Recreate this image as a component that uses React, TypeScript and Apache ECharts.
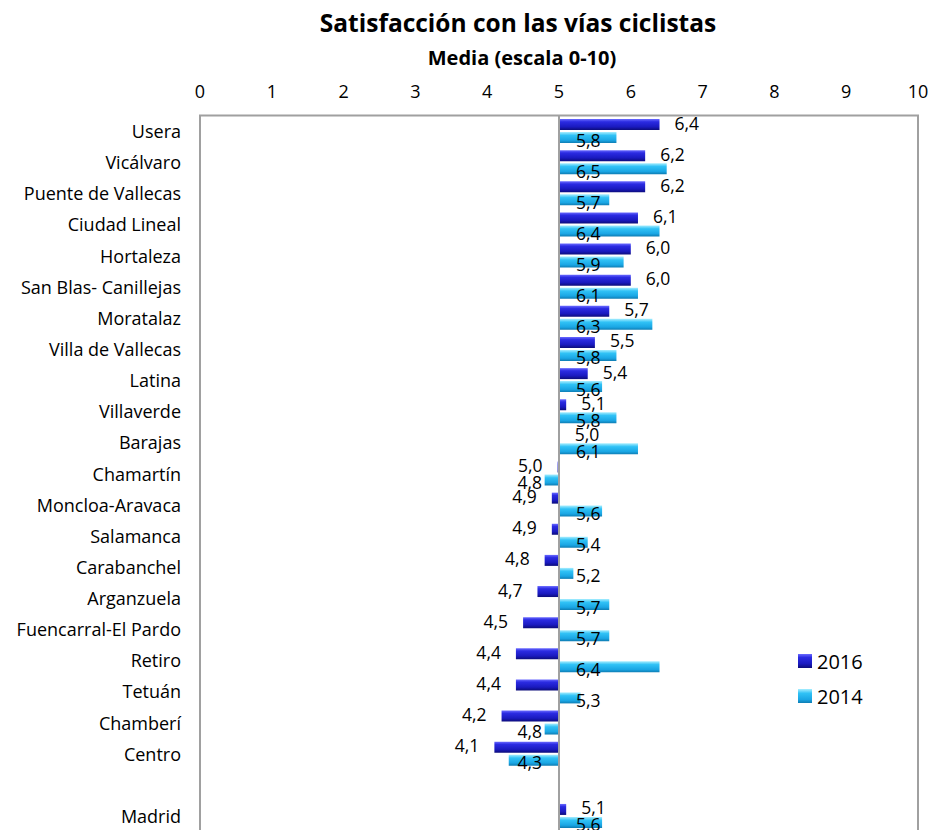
import React, { useEffect, useRef } from "react";
import * as echarts from "echarts";

const titleText = "Satisfacción con las vías ciclistas";
const subtitleText = "Media (escala 0-10)";
const baseline = 5;
const tickLabels = ["0", "1", "2", "3", "4", "5", "6", "7", "8", "9", "10"];
const seriesNames = ["2016", "2014"];
const categories = [
  "Usera",
  "Vicálvaro",
  "Puente de Vallecas",
  "Ciudad Lineal",
  "Hortaleza",
  "San Blas- Canillejas",
  "Moratalaz",
  "Villa de Vallecas",
  "Latina",
  "Villaverde",
  "Barajas",
  "Chamartín",
  "Moncloa-Aravaca",
  "Salamanca",
  "Carabanchel",
  "Arganzuela",
  "Fuencarral-El Pardo",
  "Retiro",
  "Tetuán",
  "Chamberí",
  "Centro",
  "",
  "Madrid",
];
const values2016 = [6.4, 6.2, 6.2, 6.1, 6.0, 6.0, 5.7, 5.5, 5.4, 5.1, 5.01, 4.98, 4.9, 4.9, 4.8, 4.7, 4.5, 4.4, 4.4, 4.2, 4.1, null, 5.1];
const values2014 = [5.8, 6.5, 5.7, 6.4, 5.9, 6.1, 6.3, 5.8, 5.6, 5.8, 6.1, 4.8, 5.6, 5.4, 5.2, 5.7, 5.7, 6.4, 5.3, 4.8, 4.3, null, 5.6];

const FONT = "Open Sans";
const fmt = (v: number) => v.toFixed(1).replace(".", ",");

const grad = (stops: [number, string][]) =>
  new echarts.graphic.LinearGradient(0, 0, 0, 1, stops.map(([offset, color]) => ({ offset, color })));

export default function App() {
  const ref = useRef<HTMLDivElement>(null);
  useEffect(() => {
    document.body.style.margin = "0";
    if (!ref.current) return;
    const chart = echarts.init(ref.current, null, { renderer: "svg" });
    const c2016 = grad([
      [0, "#6a6aff"],
      [0.25, "#2b2be2"],
      [0.7, "#1a1abf"],
      [1, "#0c0c7a"],
    ]);
    const c2014 = grad([
      [0, "#a8eeff"],
      [0.3, "#30c2f6"],
      [0.75, "#1aa6e4"],
      [1, "#0e7cb2"],
    ]);
    const d2016 = values2016.map((v) =>
      v == null
        ? null
        : { value: v - baseline, label: { position: v >= baseline ? "right" : "left" } }
    );
    const d2014 = values2014.map((v) =>
      v == null
        ? null
        : { value: v - baseline, label: { position: v >= baseline ? "insideLeft" : "insideRight" } }
    );
    chart.setOption({
      animation: false,
      title: [
        {
          text: titleText,
          left: 513,
          top: 5,
          textAlign: "center",
          textStyle: { fontFamily: FONT, fontSize: 24.5, fontWeight: "bold", color: "#000" },
        },
        {
          text: subtitleText,
          left: 517,
          top: 42,
          textAlign: "center",
          textStyle: { fontFamily: FONT, fontSize: 20, fontWeight: "bold", color: "#000" },
        },
      ],
      legend: {
        orient: "vertical",
        left: 793,
        top: 646,
        itemWidth: 14,
        itemHeight: 14,
        itemGap: 15,
        icon: "rect",
        data: seriesNames,
        textStyle: { fontFamily: FONT, fontSize: 20, lineHeight: 20, color: "#000" },
      },
      grid: {
        left: 200,
        top: 115.5,
        width: 718,
        height: 716,
        show: true,
        borderColor: "#a0a0a0",
        borderWidth: 2,
        containLabel: false,
        outerBoundsMode: "none",
      },
      xAxis: {
        type: "value",
        position: "top",
        min: -5,
        max: 5,
        interval: 1,
        axisLine: { show: false },
        axisTick: { show: false },
        splitLine: { show: false },
        axisLabel: {
          margin: 16,
          fontFamily: FONT,
          fontSize: 18,
          color: "#000",
          formatter: (v: number) => tickLabels[Math.round(v + baseline)],
        },
      },
      yAxis: {
        type: "category",
        inverse: true,
        data: categories,
        axisLine: { show: false, onZero: false },
        axisTick: { show: false },
        axisLabel: {
          margin: 19,
          fontFamily: FONT,
          fontSize: 18,
          color: "#000",
        },
      },
      series: [
        {
          name: seriesNames[0],
          type: "bar",
          data: d2016,
          barWidth: 11,
          barGap: "18%",
          itemStyle: { color: c2016 },
          label: {
            show: true,
            distance: 15,
            offset: [0, -2],
            fontFamily: FONT,
            fontSize: 17.5,
            color: "#000",
            formatter: (p: any) => fmt(p.value + baseline),
          },
          markLine: {
            silent: true,
            symbol: "none",
            label: { show: false },
            lineStyle: { color: "#a0a0a0", width: 2, type: "solid" },
            data: [{ xAxis: 0 }],
          },
        },
        {
          name: seriesNames[1],
          type: "bar",
          data: d2014,
          barWidth: 11,
          itemStyle: { color: c2014 },
          label: {
            show: true,
            distance: 17,
            offset: [0, 2],
            fontFamily: FONT,
            fontSize: 17.5,
            color: "#000",
            formatter: (p: any) => fmt(p.value + baseline),
          },
        },
      ],
    });
    return () => chart.dispose();
  }, []);
  return <div ref={ref} style={{ width: 932, height: 830 }} />;
}
